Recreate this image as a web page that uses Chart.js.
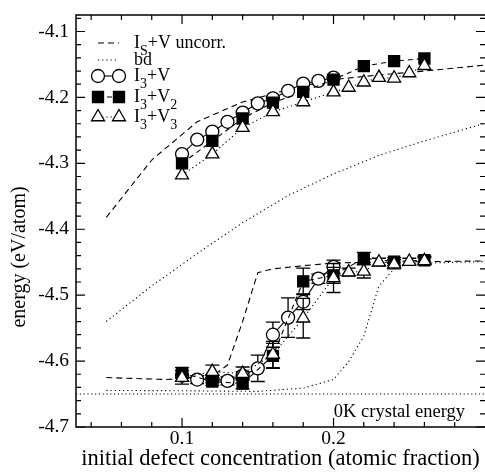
<!DOCTYPE html>
<html>
<head>
<meta charset="utf-8">
<script src="https://cdn.jsdelivr.net/npm/chart.js@4.4.1/dist/chart.umd.min.js"></script>
<style>
  html, body { margin: 0; padding: 0; background: #fff; }
  #wrap { width: 485px; height: 476px; }
</style>
</head>
<body>
<div id="wrap"><canvas id="energyChart" width="485" height="476"></canvas></div>
<script>
const FONT = "'Liberation Serif', 'Times New Roman', serif";

// ===== DATA =====
// Is+V uncorr. (dashed, no symbols)
const uncorrUpX = [0.05, 0.08, 0.11, 0.14, 0.17, 0.20, 0.23, 0.26, 0.30];
const uncorrUpY = [-4.382, -4.295, -4.237, -4.207, -4.188, -4.173, -4.166, -4.160, -4.151];
const uncorrLowX = [0.05, 0.09, 0.12, 0.13, 0.14, 0.15, 0.16, 0.20, 0.30];
const uncorrLowY = [-4.625, -4.628, -4.623, -4.606, -4.540, -4.466, -4.460, -4.451, -4.448];

// bd (dotted, no symbols)
const bdUpX = [0.05, 0.08, 0.11, 0.14, 0.17, 0.20, 0.23, 0.26, 0.29, 0.30];
const bdUpY = [-4.540, -4.486, -4.437, -4.390, -4.349, -4.316, -4.288, -4.266, -4.246, -4.239];
const bdLowX = [0.05, 0.10, 0.15, 0.18, 0.20, 0.21, 0.22, 0.23, 0.24, 0.25, 0.30];
const bdLowY = [-4.6445, -4.645, -4.646, -4.641, -4.628, -4.601, -4.562, -4.486, -4.460, -4.452, -4.449];

// 0K crystal energy
const crystalX = [0.03, 0.30];
const crystalY = [-4.65, -4.65];

// I3+V (open circles)
const circX = [0.10, 0.11, 0.12, 0.13, 0.14, 0.15, 0.16, 0.17, 0.18, 0.19, 0.20];
const circUpY = [-4.286, -4.264, -4.252, -4.237, -4.223, -4.209, -4.2015, -4.190, -4.179, -4.175, -4.170];
const circLowY = [-4.622, -4.628, -4.627, -4.630, -4.622, -4.611, -4.560, -4.534, -4.510, -4.475, -4.457];
const circLowErr = [0.008, 0.006, 0.006, 0.006, 0.006, 0.020, 0.019, 0.030, 0.012, 0.007, 0.010];

// I3+V2 (filled squares)
const sqX = [0.10, 0.12, 0.14, 0.16, 0.18, 0.20, 0.22, 0.24, 0.26];
const sqUpY = [-4.300, -4.266, -4.232, -4.208, -4.1915, -4.173, -4.1526, -4.145, -4.141];
const sqLowY = [-4.618, -4.631, -4.634, -4.592, -4.479, -4.470, -4.444, -4.449, -4.447];
const sqLowErr = [0.008, 0.006, 0.008, 0.019, 0.020, 0.012, 0.009, 0.006, 0.006];

// I3+V3 (open triangles)
const triX = [0.10, 0.12, 0.14, 0.16, 0.18, 0.20, 0.21, 0.22, 0.23, 0.24, 0.25, 0.26];
const triUpY = [-4.318, -4.286, -4.246, -4.222, -4.207, -4.192, -4.185, -4.177, -4.170, -4.171, -4.163, -4.152];
const triLowY = [-4.625, -4.616, -4.619, -4.590, -4.535, -4.474, -4.465, -4.464, -4.450, -4.453, -4.449, -4.448];
const triLowErr = [0.010, 0.010, 0.010, 0.020, 0.030, 0.022, 0.006, 0.010, 0.006, 0.007, 0.005, 0.005];

// ticks
const xTickLabels = [0.1, 0.2];
const yTickLabels = [-4.1, -4.2, -4.3, -4.4, -4.5, -4.6, -4.7];

// legend text, [text, isSubscript]
const legendItems = [
  { ds: 0, parts: [["I", 0], ["S", 1], ["+V uncorr.", 0]] },
  { ds: 2, parts: [["bd", 0]] },
  { ds: 9, parts: [["I", 0], ["3", 1], ["+V", 0]] },
  { ds: 7, parts: [["I", 0], ["3", 1], ["+V", 0], ["2", 1]] },
  { ds: 5, parts: [["I", 0], ["3", 1], ["+V", 0], ["3", 1]] }
];


function pts(xs, ys) {
  return xs.map((x, i) => ({ x: x, y: ys[i] }));
}

function plainLine(label, xs, ys, dash, order) {
  return {
    label: label,
    data: pts(xs, ys),
    showLine: true,
    borderColor: "#000",
    borderWidth: 1.1,
    borderDash: dash,
    pointRadius: 0,
    order: order
  };
}

function markLine(label, xs, ys, err, style, dash, fill, radius, order) {
  return {
    label: label,
    data: pts(xs, ys),
    yErr: err,
    showLine: true,
    borderColor: "#000",
    borderWidth: 1.1,
    borderDash: dash,
    pointStyle: style,
    pointRadius: radius,
    pointBorderColor: "#000",
    pointBackgroundColor: fill,
    pointBorderWidth: 1.3,
    order: order
  };
}

const datasets = [
  plainLine("Is+V uncorr.", uncorrUpX, uncorrUpY, [6, 4], 10),
  plainLine("Is+V uncorr. low", uncorrLowX, uncorrLowY, [6, 4], 10),
  plainLine("bd", bdUpX, bdUpY, [1.2, 3], 10),
  plainLine("bd low", bdLowX, bdLowY, [1.2, 3], 10),
  plainLine("0K", crystalX, crystalY, [1.2, 2.6], 10),
  markLine("I3+V3", triX, triUpY, null, "triangle", [1.2, 3], "#fff", 7.5, 1),
  markLine("I3+V3 low", triX, triLowY, triLowErr, "triangle", [1.2, 3], "#fff", 7.5, 1),
  markLine("I3+V2", sqX, sqUpY, null, "rect", [5, 4], "#000", 7.8, 2),
  markLine("I3+V2 low", sqX, sqLowY, sqLowErr, "rect", [5, 4], "#000", 7.8, 2),
  markLine("I3+V", circX, circUpY, null, "circle", [], "#fff", 6.5, 3),
  markLine("I3+V low", circX, circLowY, circLowErr, "circle", [], "#fff", 6.5, 3)
];


// ===== PLUGINS =====
const errorBars = {
  id: "errorBars",
  beforeDatasetDraw(chart, args) {
    const ds = chart.data.datasets[args.index];
    if (!ds.yErr) return;
    const ctx = chart.ctx;
    const xs = chart.scales.x, ys = chart.scales.y;
    ctx.save();
    ctx.strokeStyle = "#000";
    ctx.lineWidth = 1.3;
    ctx.setLineDash([]);
    ctx.beginPath();
    ds.data.forEach((p, i) => {
      const e = ds.yErr[i];
      const px = xs.getPixelForValue(p.x);
      const top = ys.getPixelForValue(p.y + e);
      const bot = ys.getPixelForValue(p.y - e);
      ctx.moveTo(px, top); ctx.lineTo(px, bot);
      ctx.moveTo(px - 7, top); ctx.lineTo(px + 7, top);
      ctx.moveTo(px - 7, bot); ctx.lineTo(px + 7, bot);
    });
    ctx.stroke();
    ctx.restore();
  }
};

const frame = {
  id: "frame",
  afterDatasetsDraw(chart) {
    const { ctx, chartArea: a } = chart;
    const xs = chart.scales.x, ys = chart.scales.y;
    ctx.save();
    ctx.strokeStyle = "#000";
    ctx.setLineDash([]);
    ctx.lineWidth = 1.5;
    // right side of the box falls just outside the picture
    ctx.strokeRect(a.left, a.top, a.right - a.left + 1.5, a.bottom - a.top);

    ctx.lineWidth = 1.2;
    ctx.beginPath();
    for (let k = 2; k < 15; k++) {
      const px = xs.getPixelForValue(k * 0.02);
      const len = k % 5 === 0 ? 9 : 5;
      ctx.moveTo(px, a.bottom); ctx.lineTo(px, a.bottom - len);
      ctx.moveTo(px, a.top); ctx.lineTo(px, a.top + len);
    }
    for (let k = 0; k < 32; k++) {
      const py = ys.getPixelForValue(-4.7 + k * 0.02);
      const len = k % 5 === 0 ? 9 : 5;
      ctx.moveTo(a.left, py); ctx.lineTo(a.left + len, py);
      ctx.moveTo(a.right, py); ctx.lineTo(a.right - len, py);
    }
    ctx.stroke();
    ctx.restore();
  }
};

function drawRich(ctx, x, y, parts) {
  parts.forEach(([t, sub]) => {
    ctx.font = (sub ? "14px " : "18px ") + FONT;
    ctx.fillText(t, x, sub ? y + 7 : y);
    x += ctx.measureText(t).width;
  });
}

const annotations = {
  id: "annotations",
  afterDraw(chart) {
    const { ctx, chartArea: a } = chart;
    ctx.save();
    ctx.fillStyle = "#000";
    ctx.textBaseline = "alphabetic";

    // y axis title
    ctx.save();
    ctx.translate(20, 257);
    ctx.rotate(-Math.PI / 2);
    ctx.textAlign = "center";
    ctx.textBaseline = "middle";
    ctx.font = "20px " + FONT;
    ctx.fillText("energy (eV/atom)", 0, 0);
    ctx.restore();

    // 0K label
    ctx.textAlign = "right";
    ctx.font = "18.5px " + FONT;
    ctx.fillText("0K crystal energy", a.right - 20, a.bottom - 10);

    // legend
    ctx.textAlign = "left";
    const rowsY = [28, 45, 61, 82, 102];
    const x0 = a.left + 22, x1 = a.left + 43;
    legendItems.forEach((item, i) => {
      const ds = chart.data.datasets[item.ds];
      const y = a.top + rowsY[i];
      ctx.save();
      ctx.strokeStyle = "#000";
      ctx.lineWidth = 1.1;
      ctx.setLineDash(ds.borderDash || []);
      ctx.beginPath();
      ctx.moveTo(x0, y); ctx.lineTo(x1, y);
      ctx.stroke();
      ctx.restore();
      if (ds.pointRadius > 0) {
        const opts = {
          pointStyle: ds.pointStyle,
          radius: ds.pointRadius,
          rotation: 0,
          borderWidth: ds.pointBorderWidth
        };
        ctx.save();
        ctx.setLineDash([]);
        ctx.strokeStyle = "#000";
        ctx.fillStyle = ds.pointBackgroundColor;
        ctx.lineWidth = ds.pointBorderWidth;
        Chart.helpers.drawPoint(ctx, opts, x0, y);
        Chart.helpers.drawPoint(ctx, opts, x1, y);
        ctx.restore();
      }
      ctx.fillStyle = "#000";
      drawRich(ctx, a.left + 58, y + 5, item.parts);
    });
    ctx.restore();
  }
};


// ===== CHART =====
const ctx = document.getElementById("energyChart").getContext("2d");

window.chart = new Chart(ctx, {
  type: "scatter",
  data: { datasets: datasets },
  options: {
    responsive: false,
    animation: false,
    events: [],
    layout: {
      autoPadding: false,
      padding: { top: 15, right: 0, bottom: 0, left: 0 }
    },
    plugins: {
      legend: { display: false },
      tooltip: { enabled: false }
    },
    scales: {
      x: {
        type: "linear",
        min: 0.03,
        max: 0.3,
        grid: { display: false, drawTicks: false },
        border: { display: false },
        afterBuildTicks: (scale) => { scale.ticks = xTickLabels.map(v => ({ value: v })); },
        afterFit: (scale) => {
          scale.height = 49;
          scale.paddingLeft = 0;
          scale.paddingRight = 0;
        },
        ticks: {
          color: "#000",
          padding: 0,
          maxRotation: 0,
          font: { family: FONT, size: 19.5 },
          callback: (v) => v.toFixed(1)
        },
        title: {
          display: true,
          text: "initial defect concentration (atomic fraction)",
          color: "#000",
          font: { family: FONT, size: 22.5 },
          padding: { top: 0, bottom: 3 }
        }
      },
      y: {
        type: "linear",
        min: -4.7,
        max: -4.075,
        grid: { display: false, drawTicks: false },
        border: { display: false },
        afterBuildTicks: (scale) => { scale.ticks = yTickLabels.map(v => ({ value: v })); },
        afterFit: (scale) => {
          scale.width = 76;
          scale.paddingTop = 0;
          scale.paddingBottom = 0;
        },
        ticks: {
          color: "#000",
          padding: 7,
          font: { family: FONT, size: 19.5 },
          callback: (v) => v.toFixed(1)
        }
      }
    }
  },
  plugins: [errorBars, frame, annotations]
});
</script>
</body>
</html>
